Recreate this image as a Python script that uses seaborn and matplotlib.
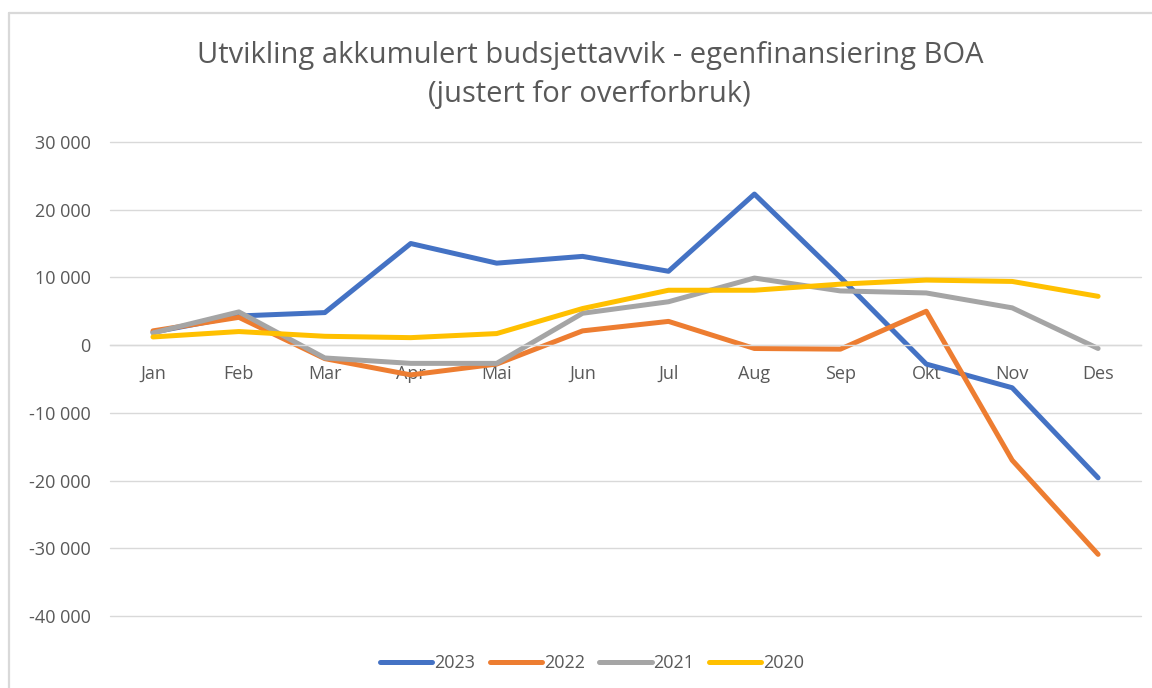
import numpy as np
import pandas as pd
import seaborn as sns
import matplotlib.pyplot as plt
from matplotlib.lines import Line2D
from matplotlib.ticker import FuncFormatter

sns.set_style("white")
plt.rcParams['font.family'] = ['Open Sans', 'DejaVu Sans']

# Data
months = ['Jan', 'Feb', 'Mar', 'Apr', 'Mai', 'Jun', 'Jul', 'Aug', 'Sep', 'Okt', 'Nov', 'Des']
y2023 = [1900, 4300, 4800, 15000, 12100, 13100, 10900, 22300, 10000, -2800, -6300, -19600]
y2022 = [2100, 4100, -2000, -4400, -2800, 2100, 3500, -500, -600, 5000, -17000, -30900]
y2021 = [1800, 4900, -1900, -2700, -2700, 4700, 6400, 9900, 8000, 7700, 5500, -500]
y2020 = [1200, 2000, 1300, 1100, 1700, 5400, 8100, 8100, 9000, 9600, 9400, 7200]

years = ['2023', '2022', '2021', '2020']
colors = ['#4472C4', '#ED7D31', '#A5A5A5', '#FFC000']

df = pd.DataFrame({
    'month': months * 4,
    'value': y2023 + y2022 + y2021 + y2020,
    'year': np.repeat(years, len(months)),
})

fig = plt.figure(figsize=(11.52, 6.88), dpi=100)
ax = fig.add_axes([0.0955, 0.1047, 0.895, 0.689])

sns.lineplot(data=df, x='month', y='value', hue='year', hue_order=years,
             palette=dict(zip(years, colors)), linewidth=3.6, ax=ax,
             sort=False, legend=True)

ax.set_xlim(-0.5, len(months) - 0.5)
ax.set_ylim(-40000, 30000)
ax.set_yticks(range(-40000, 30001, 10000))
ax.yaxis.set_major_formatter(FuncFormatter(lambda v, p: f"{int(v):,}".replace(',', ' ')))
ax.grid(axis='y', color='#D9D9D9', linewidth=1.0)
for gl in ax.get_ygridlines():
    gl.set_clip_on(False)
ax.set_axisbelow(True)
for s in ['top', 'right', 'left']:
    ax.spines[s].set_visible(False)
ax.spines['bottom'].set_position(('data', 0))
ax.spines['bottom'].set_color('#D9D9D9')
ax.spines['bottom'].set_linewidth(1.0)
ax.tick_params(axis='both', length=0, labelsize=13, colors='#595959')
ax.tick_params(axis='x', pad=14)
ax.tick_params(axis='y', pad=14)
ax.set_xlabel('')
ax.set_ylabel('')

handles, labels = ax.get_legend_handles_labels()
ax.legend_.remove()
for h in handles:
    h.set_solid_capstyle('round')
fig.legend(handles, labels, loc='center', bbox_to_anchor=(0.514, 0.036), ncol=4,
           frameon=False, fontsize=13, handlelength=2.9, handletextpad=0.1,
           columnspacing=0.8, labelcolor='#595959')

fig.text(0.512, 0.891, 'Utvikling akkumulert budsjettavvik - egenfinansiering BOA\n(justert for overforbruk)',
         ha='center', va='center', fontsize=21, color='#595959', linespacing=1.45)

# outer chart border (top and left only visible)
fig.add_artist(Line2D([0.008, 1.0], [0.981, 0.981], color='#D9D9D9', linewidth=1.6,
                      transform=fig.transFigure))
fig.add_artist(Line2D([0.008, 0.008], [0.0, 0.981], color='#D9D9D9', linewidth=1.6,
                      transform=fig.transFigure))

fig.savefig('out.png', dpi=100)
